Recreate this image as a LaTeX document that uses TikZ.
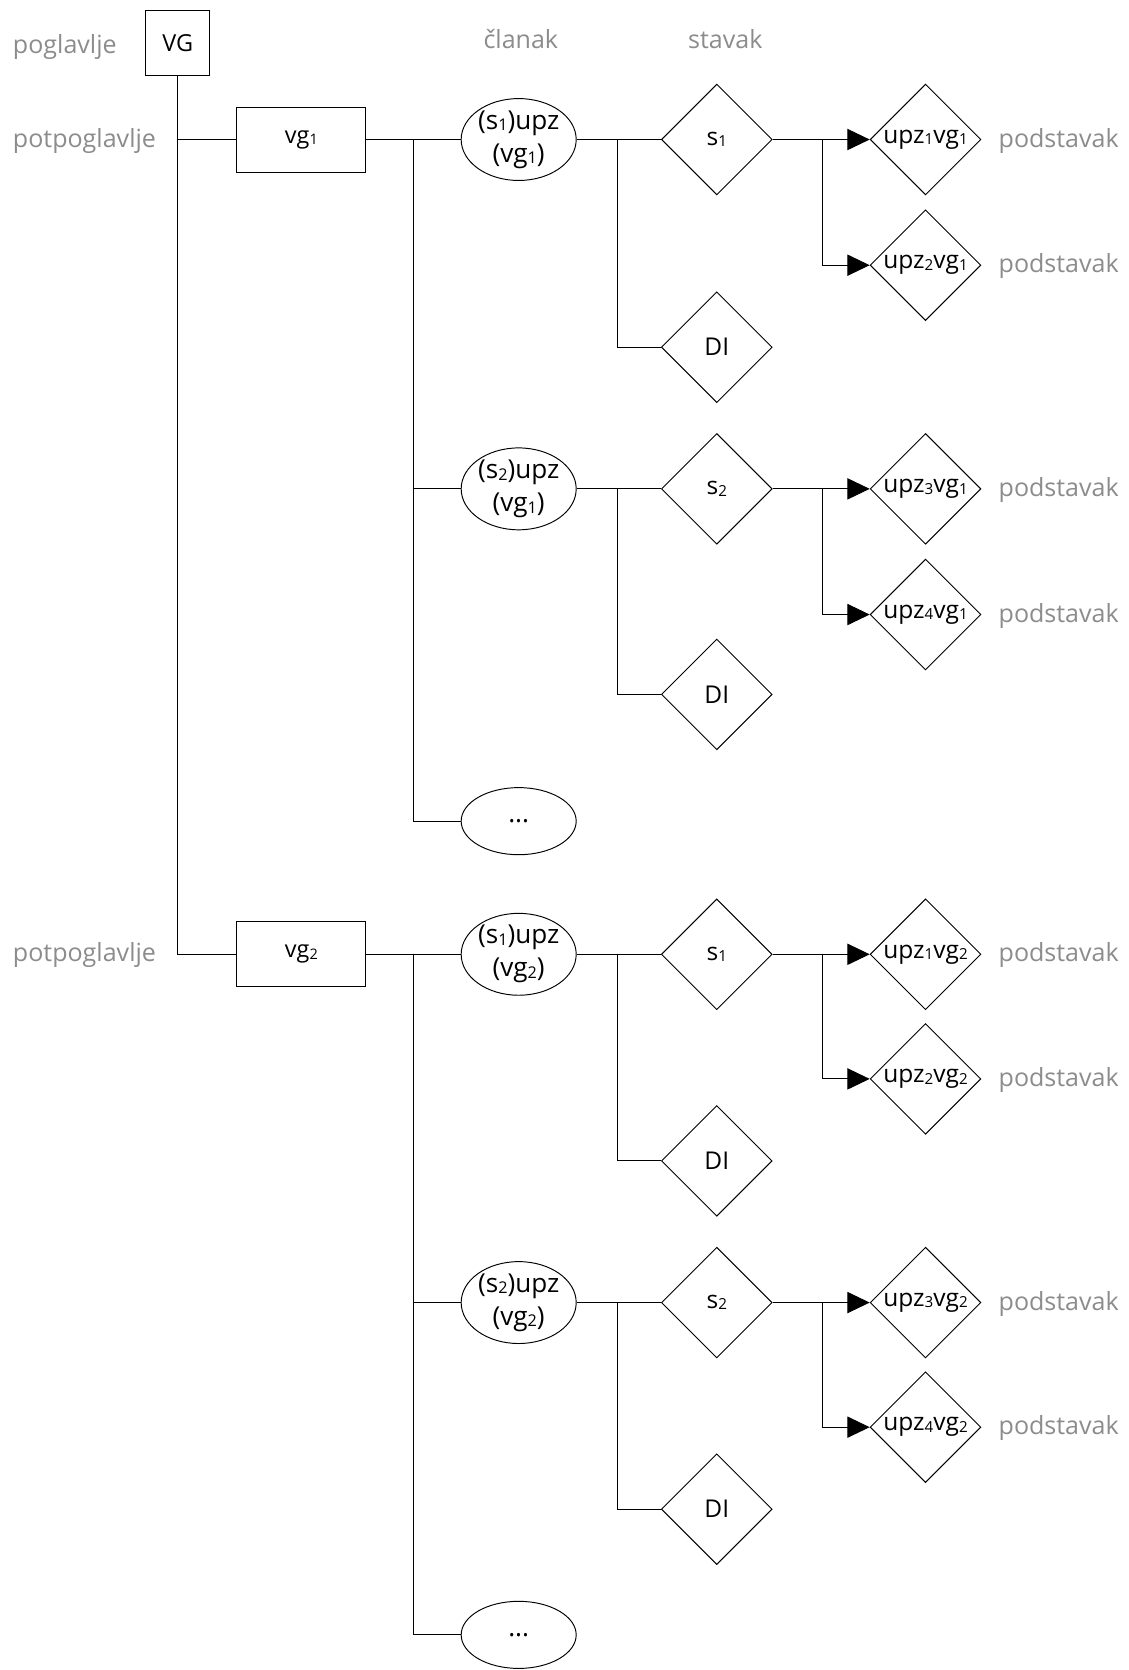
\documentclass[tikz,border=0pt]{standalone}
\usepackage{fontspec}
\usepackage{graphicx}
\setmainfont{Open Sans}
\usetikzlibrary{shapes.geometric,arrows.meta}
\definecolor{labelgray}{HTML}{8C8C8C}
\newcommand{\mysub}[1]{\raisebox{-0.06em}{\scalebox{0.62}{#1}}}
\begin{document}
\begin{tikzpicture}[x=1pt,y=-1pt,
  lbl/.style={text=labelgray, inner sep=0pt, font=\fontsize{23.5}{28}\selectfont},
  rbox/.style={draw, line width=0.9pt, inner sep=0pt, font=\fontsize{22}{26}\selectfont},
  ell/.style={ellipse, draw, line width=0.9pt, minimum width=108pt, minimum height=63pt, inner sep=0pt, align=center, font=\fontsize{24.5}{31}\selectfont},
  dia/.style={diamond, draw, line width=0.9pt, minimum width=104pt, minimum height=104pt, inner sep=0pt, font=\fontsize{23}{27}\selectfont},
  sdia/.style={dia, font=\fontsize{23}{27}\selectfont},
  conn/.style={line width=0.9pt},
  arr/.style={conn, -{Triangle[length=21pt,width=20pt]}}]
\useasboundingbox (0,0) rectangle (1060,1568);
\fill[white] (0,0) rectangle (1060,1568);

% header labels
\node[lbl, anchor=west] (lpog) at (12,44) {poglavlje};
\node[lbl] (lcl) at (489,37) {članak};
\node[lbl] (lst) at (681,37) {stavak};
\node[lbl, anchor=west] (lpp1) at (12,132) {potpoglavlje};
\node[lbl, anchor=west] (lpp2) at (12,897) {potpoglavlje};

% root
\node[rbox, minimum width=60pt, minimum height=61pt] (vg) at (167,40.5) {VG};
\node[rbox, minimum width=121pt, minimum height=61pt] (vg1) at (283,131) {vg\mysub{1}};
\node[rbox, minimum width=121pt, minimum height=61pt] (vg2) at (283,896) {vg\mysub{2}};

% block 1
\node[ell] (e11) at (487,131) {(s\mysub{1})upz\\(vg\mysub{1})};
\node[sdia] (s11) at (673,131) {\makebox[0pt]{s\mysub{1}}};
\node[dia] (u111) at (869,131) {\makebox[0pt]{upz\mysub{1}vg\mysub{1}}};
\node[dia] (u112) at (869,249) {\makebox[0pt]{upz\mysub{2}vg\mysub{1}}};
\node[dia] (d11) at (673,326) {\makebox[0pt]{DI}};
\node[ell] (e12) at (487,459) {(s\mysub{2})upz\\(vg\mysub{1})};
\node[sdia] (s12) at (673,459) {\makebox[0pt]{s\mysub{2}}};
\node[dia] (u121) at (869,459) {\makebox[0pt]{upz\mysub{3}vg\mysub{1}}};
\node[dia] (u122) at (869,577) {\makebox[0pt]{upz\mysub{4}vg\mysub{1}}};
\node[dia] (d12) at (673,652) {\makebox[0pt]{DI}};
\node[ell] (e1x) at (487,771) {...};

% block 2
\node[ell] (e21) at (487,896) {(s\mysub{1})upz\\(vg\mysub{2})};
\node[sdia] (s21) at (673,896) {\makebox[0pt]{s\mysub{1}}};
\node[dia] (u211) at (869,896) {\makebox[0pt]{upz\mysub{1}vg\mysub{2}}};
\node[dia] (u212) at (869,1013) {\makebox[0pt]{upz\mysub{2}vg\mysub{2}}};
\node[dia] (d21) at (673,1090) {\makebox[0pt]{DI}};
\node[ell] (e22) at (487,1223) {(s\mysub{2})upz\\(vg\mysub{2})};
\node[sdia] (s22) at (673,1223) {\makebox[0pt]{s\mysub{2}}};
\node[dia] (u221) at (869,1223) {\makebox[0pt]{upz\mysub{3}vg\mysub{2}}};
\node[dia] (u222) at (869,1340) {\makebox[0pt]{upz\mysub{4}vg\mysub{2}}};
\node[dia] (d22) at (673,1417) {\makebox[0pt]{DI}};
\node[ell] (e2x) at (487,1535) {...};

% podstavak labels
\foreach \n in {u111,u112,u121,u122,u211,u212,u221,u222}
  \node[lbl, anchor=west] (p\n) at ([xshift=16pt,yshift=-1pt]\n.east) {podstavak};

% connectors: root
\coordinate (r1) at (vg.south |- vg1.west);
\draw[conn] (vg.south) |- (vg2.west);
\draw[conn] (r1) -- (vg1.west);

% vg -> articles
\coordinate (j1) at (388,131);
\coordinate (j2) at (388,896);
\draw[conn] (vg1.east) -- (e11.west);
\draw[conn] (j1) |- (e12.west);
\draw[conn] (j1) |- (e1x.west);
\draw[conn] (vg2.east) -- (e21.west);
\draw[conn] (j2) |- (e22.west);
\draw[conn] (j2) |- (e2x.west);

% articles -> stavak
\foreach \e/\s/\d/\yy in {e11/s11/d11/131, e12/s12/d12/459, e21/s21/d21/896, e22/s22/d22/1223} {
  \coordinate (k\e) at (580,\yy);
  \draw[conn] (\e.east) -- (\s.west);
  \draw[conn] (k\e) |- (\d.west);
}

% stavak -> podstavak
\foreach \s/\ua/\ub/\yy in {s11/u111/u112/131, s12/u121/u122/459, s21/u211/u212/896, s22/u221/u222/1223} {
  \coordinate (m\s) at (772,\yy);
  \draw[arr] (\s.east) -- (\ua.west);
  \draw[arr] (m\s) |- (\ub.west);
}
\end{tikzpicture}
\end{document}
